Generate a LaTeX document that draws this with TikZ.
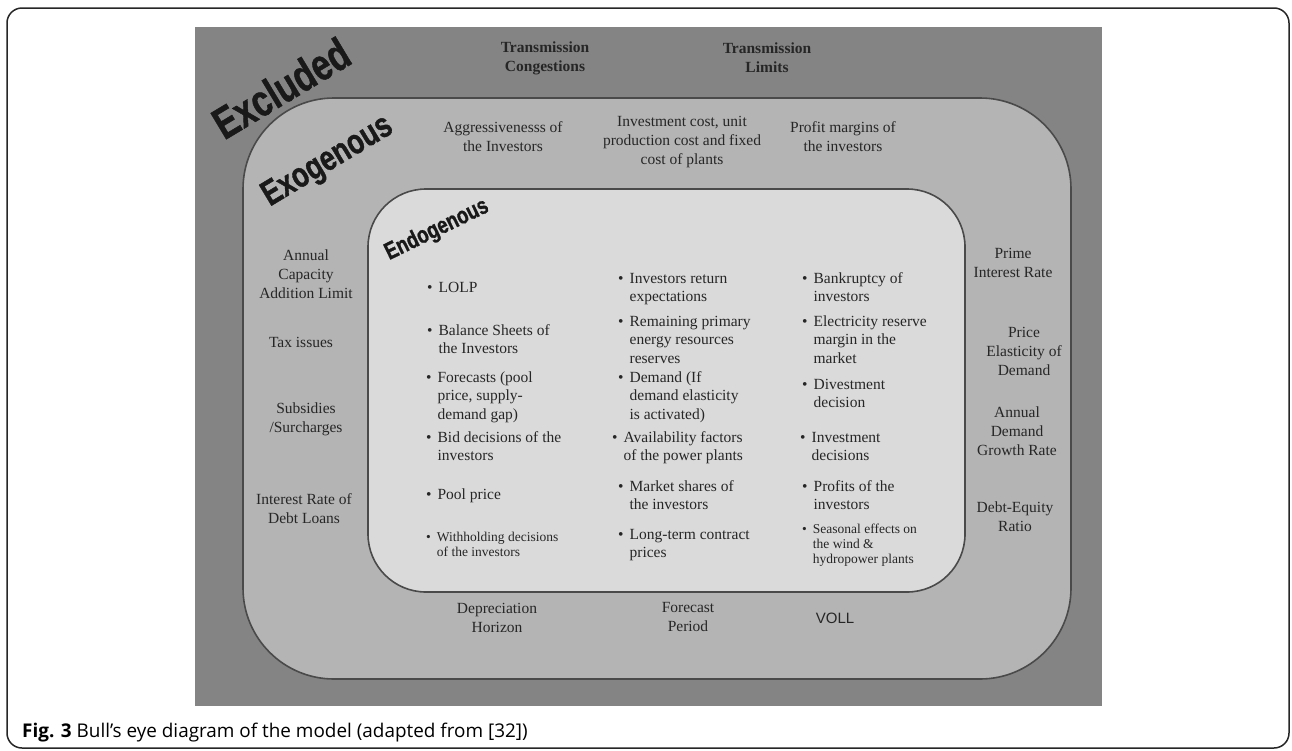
\documentclass[tikz,border=0pt]{standalone}
\usepackage{fontspec}
\setmainfont{Liberation Serif}
\setsansfont{Liberation Sans}
\newfontfamily\capfont{Open Sans}
\newfontfamily\zonefont{Liberation Sans Bold}[FakeBold=1.2]
\usetikzlibrary{positioning}

\definecolor{outergray}{HTML}{848484}
\definecolor{exogray}{HTML}{B4B4B4}
\definecolor{endogray}{HTML}{DADADA}
\definecolor{ringline}{HTML}{4A4A4A}
\definecolor{txt}{HTML}{262626}

\newcommand{\lblsize}{\fontsize{15.5}{19}\selectfont}
\newcommand{\itemsize}{\fontsize{15.5}{18.5}\selectfont}
\newcommand{\smallitemsize}{\fontsize{13.5}{15}\selectfont}
\newcommand{\bl}[1]{\textbullet\hspace{6pt}\begin{tabular}[t]{@{}l@{}}#1\end{tabular}}

\begin{document}
\begin{tikzpicture}[x=1pt, y=-1pt,
  ring/.style={draw=ringline, line width=1.6pt},
  lbl/.style={font=\lblsize, text=txt, align=center, inner sep=0pt},
  toplbl/.style={lbl, font=\lblsize\bfseries},
  entry/.style={font=\itemsize, text=txt, anchor=base west, inner sep=0pt},
  smallentry/.style={entry, font=\smallitemsize},
  zone/.style={inner sep=0pt, text=black!90, rotate=#1, yscale=1.3}]
  \useasboundingbox (0,0) rectangle (1292,750);
  \fill[white] (0,0) rectangle (1292,750);
  \draw[line width=1.5pt, rounded corners=15pt, draw=black!85] (7,8) rectangle (1289,748);
  \fill[outergray] (195,27) rectangle (1102,706);
  \draw[ring, fill=exogray, rounded corners=91pt] (243,98) rectangle (1071,679);
  \draw[ring, fill=endogray, rounded corners=58pt] (368,189) rectangle (965,592);

  \node[zone=31, font=\zonefont\fontsize{34}{34}\selectfont] (excl) at (281,88) {Excluded};
  \node[zone=31, font=\zonefont\fontsize{27}{27}\selectfont] (exo) at (328,162) {Exogenous};
  \node[zone=26, font=\zonefont\fontsize{18.5}{18.5}\selectfont] (endo) at (437,230) {Endogenous};

  \node[toplbl] (congest) at (545,58) {Transmission\\Congestions};
  \node[toplbl] (limits) at (767,58) {Transmission\\Limits};

  \node[lbl] (aggr) at (503,137) {Aggressivenesss of\\the Investors};
  \node[lbl] (cost) at (682,142) {Investment cost, unit\\production cost and fixed\\cost of plants};
  \node[lbl] (margin) at (843,137) {Profit margins of\\the investors};
  \node[lbl] (capacity) at (306,274) {Annual\\Capacity\\Addition Limit};
  \node[lbl] (tax) at (301,342) {Tax issues};
  \node[lbl] (subsidy) at (306,419) {Subsidies\\/Surcharges};
  \node[lbl] (loans) at (304,509) {Interest Rate of\\Debt Loans};
  \node[lbl] (prime) at (1013,263) {Prime\\Interest Rate};
  \node[lbl] (elast) at (1024,351) {Price\\Elasticity of\\Demand};
  \node[lbl] (growth) at (1017,431) {Annual\\Demand\\Growth Rate};
  \node[lbl] (equity) at (1015,517) {Debt-Equity\\Ratio};
  \node[lbl] (deprec) at (497,618) {Depreciation\\Horizon};
  \node[lbl] (period) at (688,617) {Forecast\\Period};
  \node[lbl, font=\sffamily\fontsize{15}{19}\selectfont] (voll) at (835,618) {VOLL};

  \node[entry] (lolp) at (427,292) {\bl{LOLP}};
  \node[entry] (balance) at (427,335) {\bl{Balance Sheets of\\the Investors}};
  \node[entry] (forecasts) at (426,382) {\bl{Forecasts (pool\\price, supply-\\demand gap)}};
  \node[entry] (bid) at (426,442) {\bl{Bid decisions of the\\investors}};
  \node[entry] (pool) at (426,499) {\bl{Pool price}};
  \node[smallentry] (withhold) at (426,541) {\bl{Withholding decisions\\of the investors}};

  \node[entry] (returns) at (618,283) {\bl{Investors return\\expectations}};
  \node[entry] (reserves) at (618,326) {\bl{Remaining primary\\energy resources\\reserves}};
  \node[entry] (demand) at (618,382) {\bl{Demand (If\\demand elasticity\\is activated)}};
  \node[entry] (avail) at (612,442) {\bl{Availability factors\\of the power plants}};
  \node[entry] (shares) at (618,491) {\bl{Market shares of\\the investors}};
  \node[entry] (contract) at (618,539) {\bl{Long-term contract\\prices}};

  \node[entry] (bankrupt) at (802,283) {\bl{Bankruptcy of\\investors}};
  \node[entry] (resmargin) at (802,326) {\bl{Electricity reserve\\margin in the\\market}};
  \node[entry] (divest) at (802,389) {\bl{Divestment\\decision}};
  \node[entry] (invest) at (800,442) {\bl{Investment\\decisions}};
  \node[entry] (profits) at (802,491) {\bl{Profits of the\\investors}};
  \node[smallentry] (seasonal) at (802,533) {\bl{Seasonal effects on\\the wind \&\\hydropower plants}};

  \node[anchor=base west, inner sep=0pt, font=\capfont\fontsize{18.9}{19}\selectfont] (caption) at (22,737) {\textbf{Fig. 3} Bull’s eye diagram of the model (adapted from [32])};
\end{tikzpicture}
\end{document}
